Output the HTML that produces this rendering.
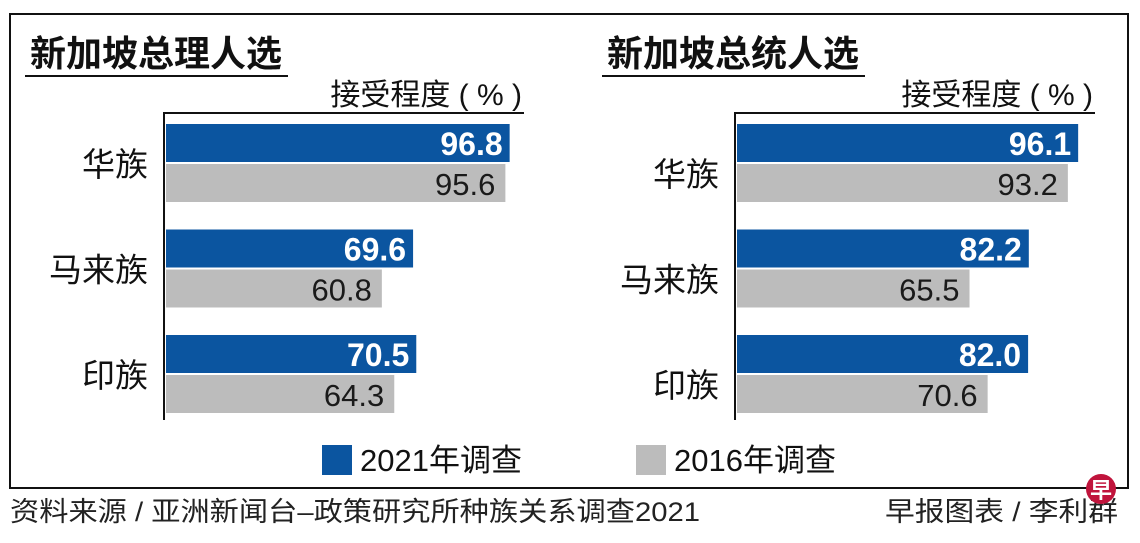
<!DOCTYPE html>
<html><head><meta charset="utf-8"><style>
body{margin:0;background:#fff;}
svg text{font-family:"Liberation Sans","Noto Sans CJK SC",sans-serif;}
</style></head><body>
<svg id="chart" width="1140" height="538" viewBox="0 0 1140 538">
<rect x="10" y="14" width="1118" height="474" fill="#fff" stroke="#111" stroke-width="2"/>
<g id="panels"></g>
<rect x="322" y="445" width="30" height="30" fill="#0b55a0"/>
<text x="360" y="471" font-size="31" fill="#111">2021年调查</text>
<rect x="636" y="445" width="30" height="30" fill="#bcbcbc"/>
<text x="674" y="471" font-size="31" fill="#111">2016年调查</text>
<text x="10" y="521" font-size="27" fill="#222" textLength="690" lengthAdjust="spacingAndGlyphs">资料来源 / 亚洲新闻台–政策研究所种族关系调查2021</text>
<text x="1118" y="521" font-size="27" fill="#222" text-anchor="end" textLength="233" lengthAdjust="spacingAndGlyphs">早报图表 / 李利群</text>
<circle cx="1101" cy="489" r="15" fill="#c0143c"/>
<text x="1101" y="498" font-size="22" font-weight="bold" fill="#fff" text-anchor="middle">早</text>
</svg>
<script>
const categories = ["华族", "马来族", "印族"];
const pmValues2021 = [96.8, 69.6, 70.5];
const pmValues2016 = [95.6, 60.8, 64.3];
const presValues2021 = [96.1, 82.2, 82.0];
const presValues2016 = [93.2, 65.5, 70.6];
const titles = ["新加坡总理人选", "新加坡总统人选"];
const subtitle = "接受程度 ( % )";

const NS = "http://www.w3.org/2000/svg";
const g = document.getElementById('panels');
function mk(tag, attrs, txt){const e=document.createElementNS(NS,tag);for(const k in attrs)e.setAttribute(k,attrs[k]);if(txt!==undefined)e.textContent=txt;g.appendChild(e);return e;}
const scale = v => v * 3.55;
const groupTop = i => 124 + i * 105.5;

function panel(ox, titleX, title, v21, v16, key, labelOff){
  let e;
  e = mk('text',{x:titleX,y:66,'font-size':36,'font-weight':'bold',fill:'#111'},title);
  
  
  e = mk('line',{x1:titleX-5,y1:76,x2:titleX+258,y2:76,stroke:'#111','stroke-width':2});
  
  
  e = mk('text',{x:ox+358,y:105,'font-size':30,fill:'#111','text-anchor':'end'},subtitle);
  
  
  e = mk('line',{x1:ox,y1:113,x2:ox+360,y2:113,stroke:'#111','stroke-width':2});
  
  
  e = mk('line',{x1:ox,y1:112,x2:ox,y2:420,stroke:'#111','stroke-width':2});
  
  
  categories.forEach((c,i)=>{
    const y=groupTop(i);
    const w1=scale(v21[i]), w2=scale(v16[i]);
    e = mk('rect',{x:ox+2,y:y,width:w1,height:38,fill:'#0b55a0'});
    
    
    e = mk('rect',{x:ox+2,y:y+40,width:w2,height:38,fill:'#bcbcbc'});
    
    
    e = mk('text',{x:ox+w1-5,y:y+31,'font-size':32,'font-weight':'bold',fill:'#fff','text-anchor':'end'},v21[i].toFixed(1));
    
    
    e = mk('text',{x:ox+w2-8,y:y+71,'font-size':31,fill:'#1a1a1a','text-anchor':'end'},v16[i].toFixed(1));
    
    
    e = mk('text',{x:ox-16,y:y+labelOff,'font-size':33,fill:'#111','text-anchor':'end'},c);
    
    
  });
}
panel(164, 30, titles[0], pmValues2021, pmValues2016, 'pm', 52);
panel(735, 607, titles[1], presValues2021, presValues2016, 'president', 62);
</script>
</body></html>
